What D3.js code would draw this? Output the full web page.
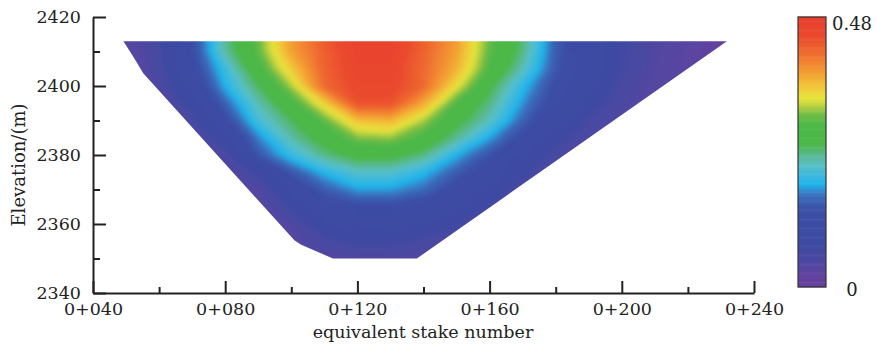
<!DOCTYPE html>
<html><head><meta charset="utf-8">
<script src="https://cdn.jsdelivr.net/npm/d3@7"></script>
<style>body{margin:0;background:#fff} svg{display:block}</style>
</head><body>
<svg id="chart" width="876" height="349"></svg>
<script>
// ---- data ----
const stakes = [40,50,60,70,80,90,100,110,120,130,140,150,160,170,180,190,200,210,220,230,240];
const elevations = [2415,2410,2405,2400,2395,2390,2385,2380,2375,2370,2365,2360,2355,2350,2345];
const row2415 = [.020,.032,.060,.130,.235,.305,.385,.432,.470,.470,.428,.385,.305,.245,.152,.105,.068,.045,.032,.021,.013];
const row2410 = [.020,.030,.058,.128,.230,.300,.380,.428,.465,.465,.425,.380,.300,.240,.150,.102,.066,.044,.031,.020,.013];
const row2405 = [.018,.028,.054,.120,.200,.280,.355,.425,.460,.460,.420,.370,.290,.222,.145,.098,.064,.042,.030,.020,.013];
const row2400 = [.016,.026,.046,.100,.185,.250,.320,.420,.455,.455,.420,.340,.260,.192,.130,.090,.056,.037,.027,.018,.012];
const row2395 = [.014,.023,.040,.075,.155,.225,.280,.350,.440,.440,.375,.290,.240,.175,.118,.078,.050,.034,.025,.016,.011];
const row2390 = [.012,.020,.034,.055,.125,.205,.250,.300,.360,.370,.320,.265,.220,.155,.098,.060,.042,.031,.022,.015,.010];
const row2385 = [.010,.017,.028,.040,.085,.170,.228,.270,.310,.315,.285,.235,.180,.125,.075,.050,.037,.027,.019,.013,.009];
const row2380 = [.008,.014,.023,.033,.050,.145,.197,.238,.265,.265,.240,.185,.140,.095,.055,.040,.031,.023,.016,.011,.008];
const row2375 = [.006,.011,.018,.027,.038,.070,.145,.188,.215,.215,.190,.150,.108,.070,.045,.034,.027,.020,.014,.010,.007];
const row2370 = [.005,.008,.014,.022,.030,.043,.095,.150,.178,.178,.160,.120,.082,.052,.036,.029,.022,.016,.011,.008,.006];
const row2365 = [.005,.006,.011,.017,.025,.033,.068,.115,.130,.130,.115,.090,.062,.042,.031,.024,.018,.013,.009,.007,.005];
const row2360 = [.005,.005,.009,.013,.019,.026,.045,.082,.095,.095,.083,.066,.048,.033,.024,.018,.013,.009,.007,.005,.005];
const row2355 = [.005,.005,.006,.010,.014,.021,.036,.058,.068,.068,.058,.046,.034,.025,.018,.013,.009,.007,.005,.005,.005];
const row2350 = [.005,.005,.005,.007,.011,.016,.026,.038,.045,.045,.040,.031,.024,.018,.013,.009,.006,.005,.005,.005,.005];
const row2345 = [.005,.005,.005,.005,.007,.012,.018,.025,.030,.030,.027,.021,.016,.012,.009,.007,.005,.005,.005,.005,.005];
const gridRows = [row2415,row2410,row2405,row2400,row2395,row2390,row2385,row2380,row2375,row2370,row2365,row2360,row2355,row2350,row2345];

// dam cross-section outline (stake, elevation)
const damStake = [49.2, 52.2, 55.2, 101.0, 103.0, 112.6, 138.0, 231.8];
const damElev  = [2413.0, 2408.5, 2403.7, 2355.2, 2354.0, 2350.0, 2350.0, 2413.0];

const xTicks = [40,80,120,160,200,240];
const xMinor = [60,100,140,180,220];
const yTicks = [2340,2360,2380,2400,2420];
const yMinor = [2350,2370,2390,2410];

const colorStops = [0,.04,.10,.15,.28,.32,.35,.38,.41,.45,.49,.53,.60,.64,.67,.70,.74,.80,.87,.93,1];
const colorHex = ["#6a40a0","#6242a0","#4c48a2","#3e4aa2","#3c4ea6","#3a62b4","#3a7cc6","#1eb4ea","#3ab8e0","#58c0c8","#5ab890","#4cb848","#4cb848","#70bc46","#b8d040","#e6e33c","#f2c83a","#f39a32","#ef6a30","#ea4a2e","#e8402e"];
const cbMin = 0, cbMax = 0.48;
const cbLabels = ["0.48","0"];

// ---- drawing ----
const svg = d3.select("#chart");
const font = "DejaVu Serif";
const ink = "#222";

const x = d3.scaleLinear().domain([40,240]).range([93,754]);
const y = d3.scaleLinear().domain([2340,2420]).range([293,17]);
const color = d3.scaleLinear().domain(colorStops.map(t => cbMin + t*(cbMax-cbMin))).range(colorHex).clamp(true);

const n = stakes.length, m = elevations.length;
const gx = d3.scaleLinear().domain([0.5, n-0.5]).range([stakes[0], stakes[n-1]]);
const gy = d3.scaleLinear().domain([0.5, m-0.5]).range([elevations[0], elevations[m-1]]);
const flat = gridRows.flat();
const thresholds = d3.range(cbMin, cbMax, 0.003);
const contours = d3.contours().size([n, m]).thresholds(thresholds)(flat);
const proj = d3.geoTransform({point(px, py){ this.stream.point(x(gx(px)), y(gy(py))); }});
const path = d3.geoPath(proj);

const defs = svg.append("defs");
const damLine = d3.line().x(d => x(d[0])).y(d => y(d[1]));
const damPts = damStake.map((s,i) => [s, damElev[i]]);
defs.append("clipPath").attr("id","dam").append("path").attr("d", damLine(damPts) + "Z");
defs.append("filter").attr("id","soft").attr("x","-5%").attr("y","-5%").attr("width","110%").attr("height","110%")
  .append("feGaussianBlur").attr("stdDeviation", 2.2);

svg.append("g").attr("clip-path","url(#dam)")
  .append("g").attr("filter","url(#soft)")
  .selectAll("path").data(contours).join("path")
  .attr("d", path)
  .attr("fill", d => color(d.value))
  .attr("stroke", d => color(d.value))
  .attr("stroke-width", 0.6);

// axes
const yAxis = svg.append("g").attr("transform","translate(93,0)")
  .call(d3.axisLeft(y).tickValues(yTicks).tickSizeInner(-13).tickSizeOuter(0).tickPadding(12).tickFormat(d3.format("d")));
const yAxisMinor = svg.append("g").attr("transform","translate(93,0)")
  .call(d3.axisLeft(y).tickValues(yMinor).tickSizeInner(-7).tickSizeOuter(0).tickFormat(""));
const xAxis = svg.append("g").attr("transform","translate(0,293)")
  .call(d3.axisBottom(x).tickValues(xTicks).tickSizeInner(-12).tickSizeOuter(0).tickPadding(10).tickFormat(d => "0+" + d3.format("03d")(d)));
const xAxisMinor = svg.append("g").attr("transform","translate(0,293)")
  .call(d3.axisBottom(x).tickValues(xMinor).tickSizeInner(-6).tickSizeOuter(0).tickFormat(""));
[yAxis, yAxisMinor, xAxis, xAxisMinor].forEach(g => {
  g.attr("font-family", font).attr("font-size", 17.5);
  g.selectAll("path.domain").attr("stroke", ink).attr("stroke-width", 2);
  g.selectAll("line").attr("stroke", ink).attr("stroke-width", 2);
  g.selectAll("text").attr("fill", ink);
});
yAxisMinor.select("path.domain").remove();
xAxisMinor.select("path.domain").remove();

// axis titles
svg.append("text").attr("x", 423).attr("y", 338).attr("text-anchor","middle")
  .attr("font-family", font).attr("font-size", 17.5).attr("fill", ink)
  .text("equivalent stake number");
svg.append("text").attr("transform","translate(25,165) rotate(-90)").attr("text-anchor","middle")
  .attr("font-family", font).attr("font-size", 18).attr("fill", ink)
  .text("Elevation/(m)");

// colour bar
const cbX = 798, cbW = 28;
const cbY = d3.scaleLinear().domain([cbMin, cbMax]).range([287, 17]);
const cbStep = 0.002;
svg.append("g").selectAll("rect").data(d3.range(cbMin, cbMax, cbStep)).join("rect")
  .attr("x", cbX).attr("width", cbW)
  .attr("y", d => cbY(d + cbStep) - 0.3)
  .attr("height", d => cbY(d) - cbY(d + cbStep) + 0.6)
  .attr("fill", d => color(d + cbStep/2));
svg.append("rect").attr("x", cbX).attr("y", cbY(cbMax)).attr("width", cbW).attr("height", cbY(cbMin) - cbY(cbMax))
  .attr("fill","none").attr("stroke","#333").attr("stroke-width",1.2);
svg.append("text").attr("x", 852).attr("y", cbY(cbMax) + 13).attr("text-anchor","middle")
  .attr("font-family", font).attr("font-size", 18).attr("fill", ink).text(cbLabels[0]);
svg.append("text").attr("x", 852).attr("y", cbY(cbMin) + 9).attr("text-anchor","middle")
  .attr("font-family", font).attr("font-size", 18).attr("fill", ink).text(cbLabels[1]);
</script>
</body></html>
